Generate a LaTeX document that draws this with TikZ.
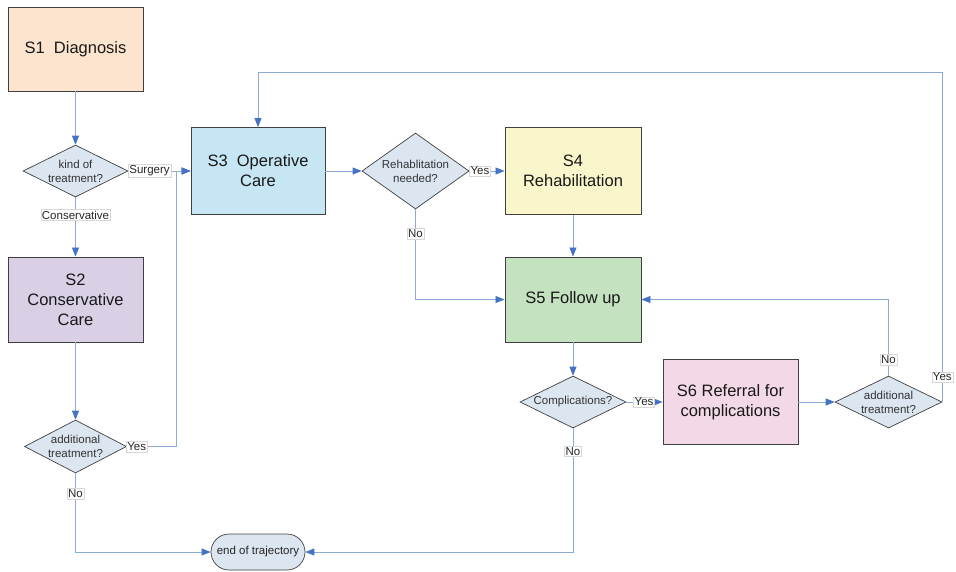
\documentclass[tikz,border=0pt]{standalone}
\usepackage{fontspec}
\setmainfont{Liberation Sans}
\usetikzlibrary{shapes.geometric,shapes.misc,arrows.meta}

\definecolor{cS1}{RGB}{252,228,206}
\definecolor{cS2}{RGB}{217,208,230}
\definecolor{cS3}{RGB}{197,230,242}
\definecolor{cS4}{RGB}{248,246,202}
\definecolor{cS5}{RGB}{196,225,192}
\definecolor{cS6}{RGB}{243,216,231}
\definecolor{cDec}{RGB}{220,230,241}
\definecolor{cEdge}{RGB}{64,64,64}
\definecolor{cLine}{RGB}{140,170,216}
\definecolor{cTip}{RGB}{68,114,196}
\definecolor{cLbl}{RGB}{215,215,215}

\tikzset{
  stagebox/.style={rectangle, draw=cEdge, line width=0.9pt, inner sep=0pt,
    align=center, font=\fontsize{16.5}{20}\selectfont, text=black!90},
  decision/.style={diamond, aspect=2, draw=cEdge, line width=0.7pt, fill=cDec, inner sep=-3pt,
    align=center, font=\fontsize{11.5}{14}\selectfont, text=black!80},
  terminal/.style={rounded rectangle, draw=cEdge, line width=0.7pt, fill=cDec, inner sep=0pt,
    align=center, font=\fontsize{11.5}{14}\selectfont, text=black!85},
  flow/.style={draw=cLine, line width=0.8pt, -{Triangle[length=9pt,width=7pt,color=cTip]}},
  lbl/.style={rectangle, fill=white, draw=cLbl, line width=0.4pt, inner sep=1.2pt,
    font=\fontsize{11.5}{13}\selectfont, text=black!85},
}

\begin{document}
\begin{tikzpicture}[x=1pt, y=-1pt]
  \useasboundingbox (0,0) rectangle (956,571);

  % stages
  \node[stagebox, fill=cS1, minimum width=135pt, minimum height=84pt] (s1) at (75.5,49) {S1\ \ Diagnosis};
  \node[stagebox, fill=cS2, minimum width=135pt, minimum height=85pt] (s2) at (75.5,299.5) {S2\\Conservative\\Care};
  \node[stagebox, fill=cS3, minimum width=134pt, minimum height=87pt] (s3) at (258,171) {S3\ \ Operative\\Care};
  \node[stagebox, fill=cS4, minimum width=136pt, minimum height=87pt] (s4) at (573,171) {S4\\Rehabilitation};
  \node[stagebox, fill=cS5, minimum width=136pt, minimum height=85pt] (s5) at (573,299.5) {S5 Follow up};
  \node[stagebox, fill=cS6, minimum width=135pt, minimum height=85pt] (s6) at (730.5,402) {S6 Referral for\\complications};

  % decisions
  \node[decision, minimum width=105pt, minimum height=52pt] (kind) at (75.5,171) {kind of\\treatment?};
  \node[decision, minimum width=102pt, minimum height=53pt] (addl) at (75.5,446.5) {additional\\treatment?};
  \node[decision, aspect=1.4, minimum width=107pt, minimum height=76pt] (rehab) at (415.5,171) {Rehablitation\\needed?};
  \node[decision, minimum width=106pt, minimum height=52pt] (compl) at (573,402) {Complications?};
  \node[decision, minimum width=107pt, minimum height=52pt] (addr) at (888.5,402) {additional\\treatment?};

  % end point
  \node[terminal, minimum width=94pt, minimum height=36pt] (endt) at (258,552) {end of trajectory};

  % routing points
  \coordinate (jct) at (176,300);
  \coordinate (looptop) at (942,72);

  % connectors
  \draw[flow] (s1.south) -- (kind.north);
  \draw[flow] (kind.east) -- node[lbl, pos=0.34] {Surgery} (s3.west);
  \draw[flow] (kind.south) -- node[lbl, pos=0.3] {Conservative} (s2.north);
  \draw[flow] (s2.south) -- (addl.north);
  \draw[flow] (addl.east) -- node[lbl, pos=0.2] {Yes} (addl.east -| jct) -- (jct |- s3.west) -- (s3.west);
  \draw[flow] (addl.south) -- node[lbl, pos=0.26] {No} (addl.south |- endt.west) -- (endt.west);

  \draw[flow] (s3.east) -- (rehab.west);
  \draw[flow] (rehab.east) -- node[lbl, pos=0.3] {Yes} (s4.west);
  \draw[flow] (rehab.south) -- node[lbl, pos=0.27] {No} (rehab.south |- s5.west) -- (s5.west);
  \draw[flow] (s4.south) -- (s5.north);
  \draw[flow] (s5.south) -- (compl.north);

  \draw[flow] (compl.east) -- node[lbl, pos=0.49] {Yes} (s6.west);
  \draw[flow] (compl.south) -- node[lbl, pos=0.185] {No} (compl.south |- endt.east) -- (endt.east);

  \draw[flow] (s6.east) -- (addr.west);
  \draw[flow] (addr.north) -- node[lbl, pos=0.21] {No} (addr.north |- s5.east) -- (s5.east);
  \draw[flow] (addr.east) -- node[lbl, pos=0.076] {Yes} (addr.east |- looptop) -- (s3.north |- looptop) -- (s3.north);
\end{tikzpicture}
\end{document}
